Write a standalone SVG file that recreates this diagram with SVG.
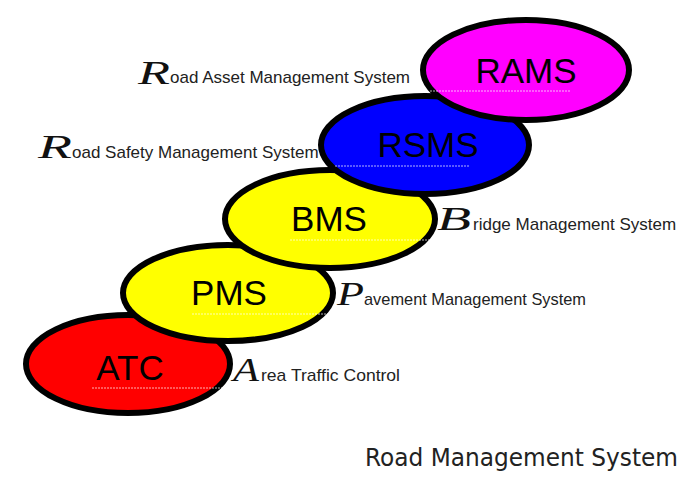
<svg xmlns="http://www.w3.org/2000/svg" width="700" height="500" viewBox="0 0 700 500">
<style>
  .ell { stroke: #000; stroke-width: 6; }
  .name { font-family: "Liberation Sans", Arial, sans-serif; font-size: 35px; fill: #000; text-anchor: middle; }
  .lbl { font-family: "Liberation Sans", Arial, sans-serif; font-size: 17px; fill: #222; }
  .cap { font-family: "Liberation Serif", "Times New Roman", serif; font-style: italic; font-size: 34px; fill: #111; }
  .dots { stroke: #fff; stroke-width: 1; stroke-dasharray: 2 1; opacity: 0.7; fill: none; }
  .title { font-family: "DejaVu Sans", "Open Sans", sans-serif; font-size: 25px; fill: #222; }
</style>
<rect width="700" height="500" fill="#fff"/>
<g id="connectors"></g>
<g id="atc">
  <ellipse class="ell" cx="128" cy="364" rx="102" ry="49" fill="#ff0000"/>
  <text class="name" x="130" y="380">ATC</text>
  <line class="dots" x1="92" y1="388" x2="225" y2="388"/>
</g>
<g id="pms">
  <ellipse class="ell" cx="228" cy="293" rx="105" ry="48" fill="#ffff00"/>
  <text class="name" x="229" y="305">PMS</text>
  <line class="dots" x1="192" y1="314" x2="330" y2="314"/>
</g>
<g id="bms">
  <ellipse class="ell" cx="330" cy="219" rx="105" ry="49" fill="#ffff00"/>
  <text class="name" x="329" y="231">BMS</text>
  <line class="dots" x1="290" y1="240" x2="432" y2="240"/>
</g>
<g id="rsms">
  <ellipse class="ell" cx="425" cy="145" rx="104" ry="49" fill="#0000ff"/>
  <text class="name" x="428" y="157">RSMS</text>
  <line class="dots" x1="335" y1="166" x2="470" y2="166"/>
</g>
<g id="rams">
  <ellipse class="ell" cx="526" cy="70" rx="103" ry="50" fill="#ff00ff"/>
  <text class="name" x="526" y="83">RAMS</text>
  <line class="dots" x1="430" y1="91" x2="570" y2="91"/>
</g>
<g id="label-rams">
  <text class="cap" x="138" y="84" textLength="32" lengthAdjust="spacingAndGlyphs">R</text>
  <text class="lbl" x="170" y="83">oad Asset Management System</text>
</g>
<g id="label-rsms">
  <text class="cap" x="38" y="158" textLength="34" lengthAdjust="spacingAndGlyphs">R</text>
  <text class="lbl" x="72" y="158">oad Safety Management System</text>
</g>
<g id="label-bms">
  <text class="cap" x="437" y="230" textLength="34" lengthAdjust="spacingAndGlyphs">B</text>
  <text class="lbl" x="473" y="230">ridge Management System</text>
</g>
<g id="label-pms">
  <text class="cap" x="337" y="305" textLength="27" lengthAdjust="spacingAndGlyphs">P</text>
  <text class="lbl" x="364" y="305" textLength="222" lengthAdjust="spacingAndGlyphs">avement Management System</text>
</g>
<g id="label-atc">
  <text class="cap" x="233" y="381" textLength="26" lengthAdjust="spacingAndGlyphs">A</text>
  <text class="lbl" x="261" y="381" textLength="139" lengthAdjust="spacingAndGlyphs">rea Traffic Control</text>
</g>
<g id="title">
  <text class="title" x="365" y="466" textLength="313" lengthAdjust="spacingAndGlyphs">Road Management System</text>
</g>
</svg>
